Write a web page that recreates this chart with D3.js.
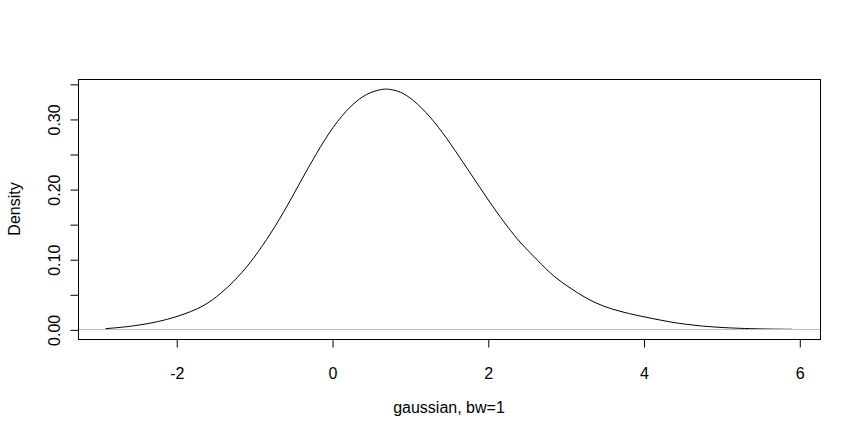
<!DOCTYPE html>
<html>
<head>
<meta charset="utf-8">
<script src="https://cdn.jsdelivr.net/npm/d3@7"></script>
<style>
  body { margin: 0; background: #fff; }
  text { font-family: "Liberation Sans", Arial, sans-serif; fill: #000; }
</style>
</head>
<body>
<div id="chart"></div>
<script>
// density estimate
var xs = [-2.909, -2.552, -2.123, -1.696, -1.481, -1.268, -1.054, -0.839, -0.626, -0.412, -0.197,
          0.016, 0.230, 0.445, 0.658, 0.744, 0.872, 1.043, 1.258, 1.472, 1.685, 1.900, 2.114,
          2.327, 2.413, 2.648, 2.841, 3.056, 3.270, 3.483, 3.698, 3.912, 4.125, 4.340, 4.554,
          4.767, 4.982, 5.196, 5.550, 5.913];
var dens = [0.0010, 0.0043, 0.0128, 0.0294, 0.0459, 0.0672, 0.0937, 0.1276, 0.1655, 0.2092, 0.2518,
            0.2898, 0.3182, 0.3370, 0.3432, 0.3423, 0.3395, 0.3277, 0.3039, 0.2731, 0.2376, 0.2021, 0.1666,
            0.1359, 0.1240, 0.0975, 0.0755, 0.0590, 0.0436, 0.0327, 0.0256, 0.0199, 0.0152, 0.0104, 0.0071,
            0.0043, 0.0028, 0.0016, 0.0004, 0.0001];
var xTicks = [-2, 0, 2, 4, 6];
var yTicks = [0, 0.05, 0.10, 0.15, 0.20, 0.25, 0.30, 0.35];
var yLabels = [0, 0.10, 0.20, 0.30];
var xTitle = "gaussian, bw=1";
var yTitle = "Density";

var width = 861, height = 437;
var box = {left: 78, right: 820, top: 79, bottom: 339};
var tickLen = 8;

var svg = d3.select("#chart").append("svg")
    .attr("width", width)
    .attr("height", height);

// R style 4% axis expansion
var xr = d3.extent(xs), xpad = 0.04 * (xr[1] - xr[0]);
var ymax = d3.max(dens), ypad = 0.04 * ymax;

var x = d3.scaleLinear()
    .domain([xr[0] - xpad, xr[1] + xpad])
    .range([box.left, box.right]);

var y = d3.scaleLinear()
    .domain([-ypad, ymax + ypad])
    .range([box.bottom, box.top]);

var pts = xs.map(function(v, i) { return [v, dens[i]]; });

var line = d3.line()
    .x(function(d) { return x(d[0]); })
    .y(function(d) { return y(d[1]); })
    .curve(d3.curveBasis);

svg.append("path")
    .datum(pts)
    .attr("d", line)
    .attr("fill", "none")
    .attr("stroke", "#000")
    .attr("stroke-width", 1);

// zero line drawn over the curve, as abline does
var y0 = Math.floor(y(0)) + 0.5;
svg.append("line")
    .attr("x1", box.left).attr("x2", box.right)
    .attr("y1", y0).attr("y2", y0)
    .attr("stroke", "#bebebe")
    .attr("stroke-width", 1);

svg.append("rect")
    .attr("x", box.left + 0.5)
    .attr("y", box.top + 0.5)
    .attr("width", box.right - box.left)
    .attr("height", box.bottom - box.top)
    .attr("fill", "none")
    .attr("stroke", "#000");

///////// axes

var xAxis = d3.axisBottom(x)
    .tickValues(xTicks)
    .tickSize(tickLen)
    .tickPadding(20)
    .tickFormat(function(d) { return String(d); });

var gX = svg.append("g")
    .attr("transform", "translate(0.5," + (box.bottom + 0.5) + ")")
    .call(xAxis);

var yAxis = d3.axisLeft(y)
    .tickValues(yTicks)
    .tickSize(tickLen)
    .tickPadding(14)
    .tickFormat(function(d) {
      return yLabels.some(function(l) { return Math.abs(l - d) < 1e-9; }) ? d3.format(".2f")(d) : "";
    });

var gY = svg.append("g")
    .attr("transform", "translate(" + (box.left + 0.5) + ",0.5)")
    .call(yAxis);

[gX, gY].forEach(function(g) {
  g.select(".domain").remove();
  g.selectAll("line").attr("stroke", "#000");
  g.selectAll("text")
    .style("font-size", "16px")
    .style("font-family", "Liberation Sans, Arial, sans-serif")
    .attr("fill", "#000");
});

// y labels rotated like R's las=0
gY.selectAll(".tick text")
    .attr("text-anchor", "middle")
    .attr("x", 0).attr("y", 0).attr("dy", 0)
    .attr("transform", "translate(-19,0) rotate(-90)");

///////// titles

svg.append("text")
    .attr("x", (box.left + box.right) / 2)
    .attr("y", 413)
    .attr("text-anchor", "middle")
    .style("font-size", "16px")
    .text(xTitle);

svg.append("text")
    .attr("transform", "translate(20," + ((box.top + box.bottom) / 2) + ") rotate(-90)")
    .attr("text-anchor", "middle")
    .style("font-size", "16px")
    .text(yTitle);
</script>
</body>
</html>
